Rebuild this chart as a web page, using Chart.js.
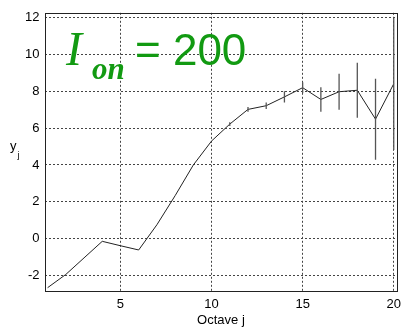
<!DOCTYPE html>
<html>
<head>
<meta charset="utf-8">
<script src="https://cdn.jsdelivr.net/npm/chart.js@4/dist/chart.umd.min.js"></script>
<style>
  html, body { margin: 0; padding: 0; background: #fff; }
  #c { display: block; }
</style>
</head>
<body>
<canvas id="c" width="407" height="330"></canvas>
<script>
// Octave index and the estimated y_j per octave, with its error half-width
const octaves = [1, 2, 3, 4, 5, 6, 7, 8, 9, 10, 11, 12, 13, 14, 15, 16, 17, 18, 19, 20];
const yj = [-2.67, -1.95, -1.05, -0.15, -0.39, -0.62, 0.75, 2.33, 4.0, 5.3,
            6.22, 7.02, 7.22, 7.7, 8.2, 7.56, 7.98, 8.06, 6.49, 8.41];
const yjErr = [0, 0, 0, 0, 0, 0, 0, 0, 0, 0,
               0.1, 0.13, 0.18, 0.3, 0.3, 0.67, 0.98, 1.5, 2.2, 3.6];

const xTicks = [5, 10, 15, 20];
const yTicks = [-2, 0, 2, 4, 6, 8, 10, 12];

const tickFont = { family: '"Liberation Sans", Arial, sans-serif', size: 13 };

// Error bars, the axes box and the annotation text
const decorations = {
  id: 'decorations',
  afterDatasetsDraw(chart) {
    const { ctx, chartArea: a, scales: { x, y } } = chart;
    ctx.save();
    ctx.beginPath();
    ctx.rect(a.left, a.top, a.right - a.left, a.bottom - a.top);
    ctx.clip();
    ctx.strokeStyle = '#555';
    ctx.lineWidth = 1.3;
    octaves.forEach((o, i) => {
      const e = yjErr[i];
      if (!e) return;
      const px = x.getPixelForValue(o);
      ctx.beginPath();
      ctx.moveTo(px, y.getPixelForValue(yj[i] + e));
      ctx.lineTo(px, y.getPixelForValue(yj[i] - e));
      ctx.stroke();
    });
    ctx.restore();
  },
  afterDraw(chart) {
    const { ctx, chartArea: a } = chart;
    ctx.save();
    ctx.strokeStyle = '#222';
    ctx.lineWidth = 1;
    ctx.strokeRect(Math.round(a.left) + 0.5, Math.round(a.top) + 0.5,
                   Math.round(a.right - a.left) - 1, Math.round(a.bottom - a.top));

    // y_j axis label
    ctx.fillStyle = '#000';
    ctx.textBaseline = 'alphabetic';
    ctx.font = '13px "Liberation Sans", Arial, sans-serif';
    ctx.fillText('y', 10, 150);
    ctx.font = '9px "Liberation Sans", Arial, sans-serif';
    ctx.fillText('j', 17.5, 158);

    // I_on = 200
    ctx.fillStyle = '#129a12';
    ctx.font = 'italic 48px "Liberation Serif", "Times New Roman", serif';
    ctx.fillText('I', 66, 65);
    ctx.font = 'italic bold 31px "Liberation Serif", "Times New Roman", serif';
    ctx.fillText('on', 92, 79);
    ctx.font = '44px "Liberation Sans", Arial, sans-serif';
    ctx.fillText('= 200', 135, 65);
    ctx.restore();
  }
};

new Chart(document.getElementById('c'), {
  type: 'line',
  data: {
    datasets: [{
      data: octaves.map((o, i) => ({ x: o, y: yj[i] })),
      borderColor: '#222',
      borderWidth: 1,
      pointRadius: 0,
      tension: 0,
      fill: false
    }]
  },
  options: {
    responsive: false,
    animation: false,
    events: [],
    layout: { padding: { top: 7, right: 3, left: 0, bottom: 0 } },
    plugins: { legend: { display: false }, tooltip: { enabled: false } },
    scales: {
      x: {
        type: 'linear',
        min: 0.83,
        max: 20.2,
        afterFit(s) { s.height = 39; },
        afterBuildTicks(s) { s.ticks = xTicks.map(v => ({ value: v })); },
        grid: { color: '#444', lineWidth: 1, drawTicks: false },
        border: { display: false, dash: [2, 2] },
        ticks: { font: tickFont, color: '#000', padding: 6 },
        title: {
          display: true,
          text: 'Octave j',
          color: '#000',
          font: tickFont,
          padding: { top: 0, bottom: 2 }
        }
      },
      y: {
        min: -2.85,
        max: 12.27,
        afterFit(s) { s.width = 44.5; },
        afterBuildTicks(s) { s.ticks = yTicks.map(v => ({ value: v })); },
        grid: { color: '#444', lineWidth: 1, drawTicks: false },
        border: { display: false, dash: [2, 2] },
        ticks: { font: tickFont, color: '#000', padding: 5 }
      }
    }
  },
  plugins: [decorations]
});
</script>
</body>
</html>
